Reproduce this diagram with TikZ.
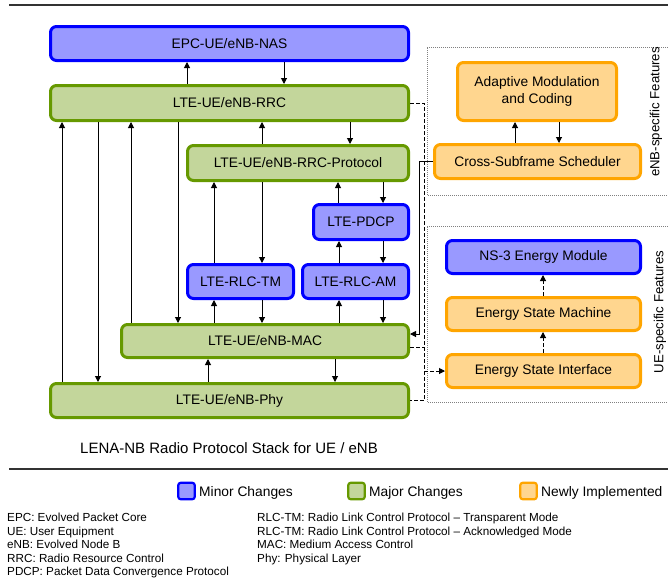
\documentclass[tikz,border=0pt]{standalone}
\usepackage{fontspec}
\setmainfont{Liberation Sans}
\usetikzlibrary{arrows.meta}

\definecolor{minorfill}{HTML}{9999FF}
\definecolor{minorline}{HTML}{0000FF}
\definecolor{majorfill}{HTML}{C3D69B}
\definecolor{majorline}{HTML}{669900}
\definecolor{newfill}{HTML}{FFD68F}
\definecolor{newedge}{HTML}{FFA500}
\definecolor{rulegray}{HTML}{333333}

% vertical connectors at a given x between two named nodes
\newcommand\upconn[4][]{\path (#2,0) coordinate (cx);
  \draw[arr,#1] (#3.north -| cx) -- (#4.south -| cx);}
\newcommand\downconn[4][]{\path (#2,0) coordinate (cx);
  \draw[arr,#1] (#3.south -| cx) -- (#4.north -| cx);}

\begin{document}
\begin{tikzpicture}[x=1pt,y=-1pt,
  box/.style={rounded corners=6pt, line width=3pt, inner sep=0pt,
    align=center, font=\fontsize{13.8}{16.5}\selectfont},
  minor/.style={box, draw=minorline, fill=minorfill},
  major/.style={box, draw=majorline, fill=majorfill},
  newbox/.style={box, draw=newedge, fill=newfill},
  arr/.style={line width=1pt, -{Triangle[length=6pt,width=6pt]}},
  dline/.style={line width=1pt, dash pattern=on 4pt off 2pt},
  darr/.style={arr, dash pattern=on 4pt off 2pt},
  region/.style={draw=gray, line width=0.7pt, dash pattern=on 0.8pt off 1.2pt},
  swatch/.style={rounded corners=2.5pt, line width=2.2pt, minimum width=16.5pt,
    minimum height=16.5pt, inner sep=0pt},
  legtext/.style={anchor=base west, inner sep=0pt, font=\fontsize{13.8}{16}\selectfont},
  abbr/.style={anchor=base west, inner sep=0pt, font=\fontsize{11.7}{13}\selectfont}
]
\useasboundingbox (0,0) rectangle (668,579);

% rules
\draw[rulegray, line width=1.5pt] (9,5) -- (668,5);
\draw[rulegray, line width=1.5pt] (9,469) -- (668,469);

% protocol stack
\node[minor, minimum width=358pt, minimum height=34pt] (nas) at (229.5,43.5) {EPC-UE/eNB-NAS};
\node[major, minimum width=358pt, minimum height=35pt] (rrc) at (229.5,103) {LTE-UE/eNB-RRC};
\node[major, minimum width=221pt, minimum height=35pt] (proto) at (298,163) {LTE-UE/eNB-RRC-Protocol};
\node[minor, minimum width=95pt, minimum height=35pt] (pdcp) at (361,222) {LTE-PDCP};
\node[minor, minimum width=106pt, minimum height=34pt] (tm) at (240.5,281.5) {LTE-RLC-TM};
\node[minor, minimum width=106pt, minimum height=34pt] (am) at (355.5,281.5) {LTE-RLC-AM};
\node[major, minimum width=287pt, minimum height=33pt] (mac) at (265,341) {LTE-UE/eNB-MAC};
\node[major, minimum width=358pt, minimum height=34pt] (phy) at (229.5,400.5) {LTE-UE/eNB-Phy};

\node[font=\fontsize{15}{18}\selectfont] (caption) at (229,448) {LENA-NB Radio Protocol Stack for UE / eNB};

% feature regions
\draw[region] (668,47) -- (427,47) -- (427,195) -- (668,195);
\draw[region] (668,226) -- (427,226) -- (427,402) -- (668,402);
\node[rotate=90, font=\fontsize{13.2}{16}\selectfont] (enblabel) at (656,112) {eNB-specific Features};
\node[rotate=90, font=\fontsize{13.2}{16}\selectfont] (uelabel) at (660,312) {UE-specific Features};

\node[newbox, minimum width=159pt, minimum height=58pt] (amc) at (537,91.5) {Adaptive Modulation\\and Coding};
\node[newbox, minimum width=206pt, minimum height=34pt] (sched) at (537.5,161.5) {Cross-Subframe Scheduler};
\node[minor, minimum width=194pt, minimum height=33pt] (ns3) at (543.5,257) {NS-3 Energy Module};
\node[newbox, minimum width=194pt, minimum height=33pt] (esm) at (543.5,314) {Energy State Machine};
\node[newbox, minimum width=194pt, minimum height=33pt] (esi) at (543.5,371) {Energy State Interface};

% stack connectors
\upconn{187}{rrc}{nas}
\downconn{284}{nas}{rrc}
\upconn{62}{phy}{rrc}
\downconn{98}{rrc}{phy}
\upconn{131}{mac}{rrc}
\downconn{178}{rrc}{mac}
\upconn{262}{proto}{rrc}
\downconn{350}{rrc}{proto}
\upconn{214}{tm}{proto}
\downconn{262}{proto}{tm}
\upconn{338}{pdcp}{proto}
\downconn{383}{proto}{pdcp}
\upconn{339}{am}{pdcp}
\downconn{383}{pdcp}{am}
\upconn{214}{mac}{tm}
\downconn{262}{tm}{mac}
\upconn{339}{mac}{am}
\downconn{383}{am}{mac}
\upconn{208}{phy}{mac}
\downconn{335}{mac}{phy}

% feature connectors
\upconn{515}{sched}{amc}
\downconn{559}{amc}{sched}
\upconn[dash pattern=on 4pt off 2pt]{543}{esi}{esm}
\upconn[dash pattern=on 4pt off 2pt]{543}{esm}{ns3}

% links between the stack and the features
\coordinate (bus) at (424,0);
\coordinate (sbus) at (419,0);
\coordinate (macout) at ([yshift=-6pt]mac.east);
\coordinate (macin) at ([yshift=7pt]mac.east);
\draw[dline] (rrc.east) -- (rrc.east -| bus) -- (phy.east -| bus) -- (phy.east);
\draw[dline] (macout) -- (macout -| bus);
\draw[darr] (esi.west -| bus) -- (esi.west);
\draw[arr] (sched.west) -- (sched.west -| sbus) -- (macin -| sbus) -- (macin);

% legend
\node[swatch, draw=minorline, fill=minorfill] (swminor) at (186.5,491) {};
\node[legtext] (tminor) at (199,496) {Minor Changes};
\node[swatch, draw=majorline, fill=majorfill] (swmajor) at (356.5,491) {};
\node[legtext] (tmajor) at (369,496) {Major Changes};
\node[swatch, draw=newedge, fill=newfill] (swnew) at (528.5,491) {};
\node[legtext] (tnew) at (541,496) {Newly Implemented};

% abbreviations
\node[abbr] (a1) at (7,521) {EPC: Evolved Packet Core};
\node[abbr] (a2) at (7,535) {UE: User Equipment};
\node[abbr] (a3) at (7,548.5) {eNB: Evolved Node B};
\node[abbr] (a4) at (7,562) {RRC: Radio Resource Control};
\node[abbr] (a5) at (7,575.5) {PDCP: Packet Data Convergence Protocol};
\node[abbr] (b1) at (257,521) {RLC-TM: Radio Link Control Protocol – Transparent Mode};
\node[abbr] (b2) at (257,535) {RLC-TM: Radio Link Control Protocol – Acknowledged Mode};
\node[abbr] (b3) at (257,548.5) {MAC: Medium Access Control};
\node[abbr] (b4) at (257,562) {Phy: Physical Layer};
\end{tikzpicture}
\end{document}
